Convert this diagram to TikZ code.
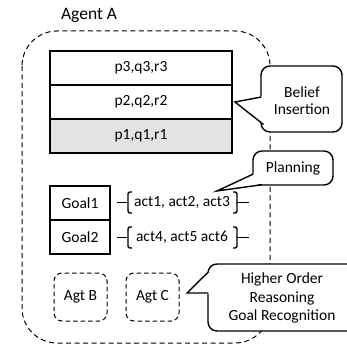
\documentclass[tikz,border=0pt]{standalone}
\usepackage{fontspec}
\setmainfont{Carlito}
\begin{document}
\begin{tikzpicture}[x=1pt, y=-1pt,
  lbl/.style={font=\fontsize{15.5}{19}\selectfont, inner sep=0pt, align=center},
  cell/.style={draw, line width=1.4pt, minimum width=182pt, minimum height=34pt, inner sep=0pt, font=\fontsize{15.5}{19}\selectfont},
  goalbox/.style={draw, line width=1.4pt, minimum width=60pt, minimum height=34pt, inner sep=0pt, font=\fontsize{15.5}{19}\selectfont},
  agentbox/.style={draw, dashed, dash pattern=on 4.5pt off 3pt, line width=1pt, rounded corners=8pt, minimum width=53pt, minimum height=48pt, inner sep=0pt, font=\fontsize{15.5}{19}\selectfont},
  outer/.style={draw, line width=1pt, dash pattern=on 5pt off 3.5pt, rounded corners=35pt},
  bubble/.style={draw, fill=white, line width=1.4pt, rounded corners=9pt},
  tipline/.style={draw, line width=1.4pt, line join=miter},
  brk/.style={line width=1.4pt}
]
\useasboundingbox (0,0) rectangle (347,347);

% agent boundary
\node[font=\fontsize{17.5}{20}\selectfont, inner sep=0pt] (agent) at (89,15) {Agent A};
\draw[outer] (22,31) rectangle (270,343);

% belief stack
\node[cell] (b3) at (141,68) {p3,q3,r3};
\node[cell] (b2) at (141,102) {p2,q2,r2};
\node[cell, fill=black!11] (b1) at (141,136) {p1,q1,r1};

% goals and their plans
\node[goalbox] (g1) at (80,203) {Goal1};
\node[goalbox] (g2) at (80,237) {Goal2};
\node[lbl] (p1) at (182,202) {act1, act2, act3};
\node[lbl] (p2) at (182,237) {act4, act5 act6};

\foreach \c in {202.5,237.5}{
  \draw[brk] (117,\c) -- (128,\c);
  \draw[brk, rounded corners=2pt] (132,\c-10.5) -- (128,\c-10.5) -- (128,\c+10.5) -- (132,\c+10.5);
  \draw[brk] (249,\c) -- (237,\c);
  \draw[brk, rounded corners=2pt] (233,\c-10.5) -- (237,\c-10.5) -- (237,\c+10.5) -- (233,\c+10.5);
}

% nested agent models
\node[agentbox] (agb) at (80.5,297) {Agt B};
\node[agentbox] (agc) at (152.5,297) {Agt C};

% callout: belief insertion
\draw[bubble] (261,66) rectangle (342,132);
\fill[white] (263,96) -- (235,102) -- (265,125) -- (263,125) -- cycle;
\draw[tipline] (261.3,97) -- (235,102) -- (263.5,124.5);
\node[lbl] (bi) at (302,100.5) {Belief\\[-2pt]Insertion};

% callout: planning
\draw[bubble] (253,151) rectangle (333,185);
\fill[white] (255,173) -- (217,191) -- (265,183.3) -- (260,178) -- cycle;
\draw[tipline] (253.3,174) -- (217,191) -- (262,184.7);
\node[lbl] (pl) at (293,168) {Planning};

% callout: higher order reasoning
\draw[bubble] (208,264) rectangle (356,331);
\fill[white] (210,271) -- (187,293) -- (210,294) -- cycle;
\draw[tipline] (208.3,272) -- (187,293) -- (208.3,293);
\node[lbl] (ho) at (282,298) {Higher Order\\[-0.5pt]Reasoning\\[-0.5pt]Goal Recognition};
\end{tikzpicture}
\end{document}
